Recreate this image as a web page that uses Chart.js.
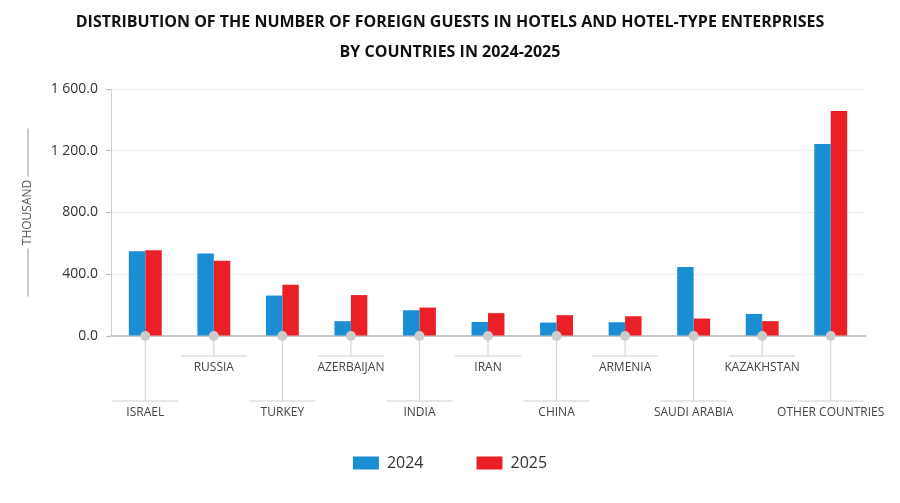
<!DOCTYPE html>
<html>
<head>
<meta charset="utf-8">
<script src="https://cdn.jsdelivr.net/npm/chart.js@4.4.1/dist/chart.umd.min.js"></script>
<style>
  html, body { margin: 0; padding: 0; background: #fff; }
  #wrap { width: 900px; height: 503px; }
</style>
</head>
<body>
<div id="wrap"><canvas id="bar-chart"></canvas></div>
<script>
const countries = ["ISRAEL", "RUSSIA", "TURKEY", "AZERBAIJAN", "INDIA", "IRAN", "CHINA", "ARMENIA", "SAUDI ARABIA", "KAZAKHSTAN", "OTHER COUNTRIES"];
const guests2024 = [549, 535, 262, 96, 167, 91, 87, 89, 447, 143, 1244];
const guests2025 = [555, 488, 332, 265, 184, 148, 135, 128, 113, 96, 1457];
const yTicks = [0, 400, 800, 1200, 1600];

const FONT = "'Open Sans', 'Noto Sans', sans-serif";

// staggered category labels with leader lines, plus the y axis caption
const labelPlugin = {
  id: 'labelPlugin',
  afterDraw(chart) {
    const ctx = chart.ctx;
    const xs = chart.scales.x;
    const area = chart.chartArea;
    const bottom = area.bottom;
    ctx.save();
    ctx.font = "12px " + FONT;
    ctx.textAlign = 'center';
    ctx.textBaseline = 'middle';
    countries.forEach((name, i) => {
      const x = xs.getPixelForValue(i);
      const lineY = i % 2 === 0 ? bottom + 65 : bottom + 20;
      ctx.strokeStyle = '#cfcfcf';
      ctx.lineWidth = 1;
      ctx.beginPath();
      ctx.moveTo(x, bottom);
      ctx.lineTo(x, lineY);
      ctx.moveTo(x - 33, lineY);
      ctx.lineTo(x + 33, lineY);
      ctx.stroke();
      ctx.fillStyle = '#cccccc';
      ctx.beginPath();
      ctx.arc(x, bottom, 5, 0, Math.PI * 2);
      ctx.fill();
      ctx.fillStyle = '#444';
      ctx.fillText(name, x, lineY + 12);
    });

    // "THOUSAND" caption with dashes above and below
    const cy = (area.top + area.bottom) / 2;
    ctx.translate(28, cy);
    ctx.rotate(-Math.PI / 2);
    ctx.font = "12px " + FONT;
    ctx.fillStyle = '#555';
    ctx.fillText('THOUSAND', 0, 0);
    ctx.strokeStyle = '#999';
    ctx.beginPath();
    ctx.moveTo(36, 0); ctx.lineTo(84, 0);
    ctx.moveTo(-36, 0); ctx.lineTo(-84, 0);
    ctx.stroke();
    ctx.restore();
  }
};

new Chart(document.getElementById("bar-chart"), {
  type: 'bar',
  data: {
    labels: countries,
    datasets: [
      { label: "2024", backgroundColor: "#1b8dd2", data: guests2024 },
      { label: "2025", backgroundColor: "#ea1f27", data: guests2025 }
    ]
  },
  options: {
    responsive: true,
    maintainAspectRatio: false,
    animation: false,
    layout: { padding: { left: 0, right: 0, top: 0, bottom: 22 } },
    datasets: { bar: { categoryPercentage: 0.48, barPercentage: 1.0 } },
    plugins: {
      title: {
        display: true,
        text: ['DISTRIBUTION OF THE NUMBER OF FOREIGN GUESTS IN HOTELS AND HOTEL-TYPE ENTERPRISES', 'BY COUNTRIES IN 2024-2025'],
        color: '#111',
        font: { family: FONT, size: 16, weight: 'bold', lineHeight: 1.875 },
        padding: { top: 7, bottom: 22 }
      },
      legend: {
        position: 'bottom',
        labels: {
          boxWidth: 26,
          boxHeight: 13,
          padding: 53,
          color: '#333',
          font: { family: FONT, size: 16 }
        }
      },
      tooltip: { enabled: false }
    },
    scales: {
      x: {
        grid: { display: false },
        border: { color: '#c8c8c8', width: 2 },
        ticks: { display: false },
        afterFit(s) { s.height = 66; }
      },
      y: {
        min: 0,
        max: 1600,
        afterBuildTicks(s) { s.ticks = yTicks.map(v => ({ value: v })); },
        grid: { color: '#ececec', tickColor: '#bbb', tickLength: 5 },
        border: { color: '#cfcfcf' },
        ticks: {
          padding: 8,
          color: '#333',
          font: { family: FONT, size: 14 },
          callback: v => v.toFixed(1).replace(/\B(?=(\d{3})+(?!\d))/g, ' ')
        },
        afterFit(s) { s.width = 111; }
      },
      // empty right-hand strip so the plot ends where the reference does
      spacer: {
        position: 'right',
        min: 0,
        max: 1600,
        grid: { display: false },
        border: { display: false },
        ticks: { display: false },
        afterFit(s) { s.width = 35; }
      }
    }
  },
  plugins: [labelPlugin]
});
</script>
</body>
</html>
